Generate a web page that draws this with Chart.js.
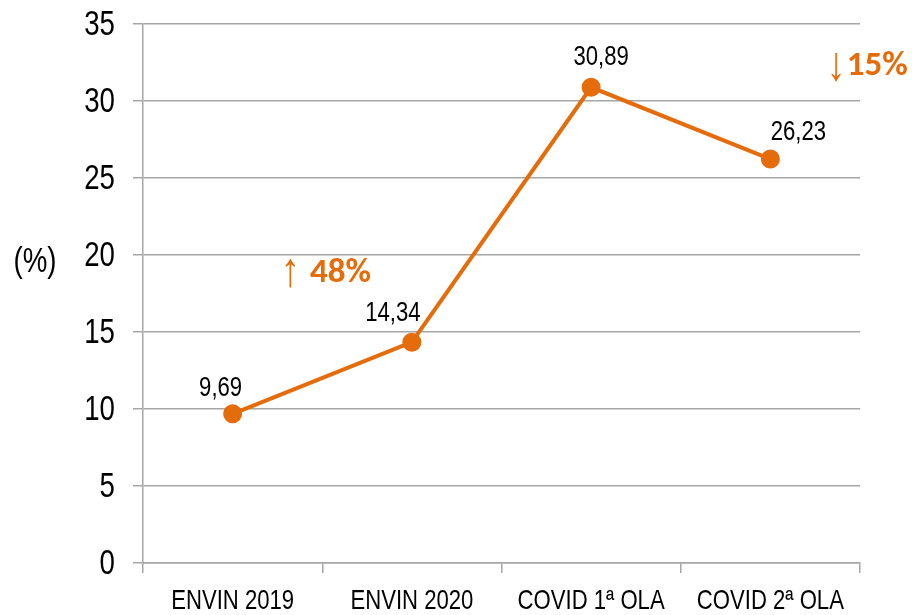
<!DOCTYPE html>
<html>
<head>
<meta charset="utf-8">
<script src="https://cdn.jsdelivr.net/npm/chart.js@4.4.1/dist/chart.umd.min.js"></script>
<style>
  html, body { margin: 0; padding: 0; background: #fff; }
  canvas { display: block; }
</style>
</head>
<body>
<canvas id="chart" width="912" height="615"></canvas>
<script>
// values
const categories = ['ENVIN 2019', 'ENVIN 2020', 'COVID 1ª OLA', 'COVID 2ª OLA'];
const values = [9.69, 14.34, 30.89, 26.23];
const yTicks = [0, 5, 10, 15, 20, 25, 30, 35];
const notes = [
    { text: '48%', arrow: '↑', x: 0.52, y: 18.9 },
    { text: '15%', arrow: '↓', x: 3.54, y: 32.3 }
];

// label nudges (px) - the labels were moved by hand in the original
const labelShift = [[-12, -25], [-19, -29], [10, -30], [28, -27]];

const orange = '#E46C0A';
const gridGray = '#A6A6A6';
const sans = "'Liberation Sans', Arial, sans-serif";
const boldFont = "bold 35px Carlito, Lato, 'Open Sans', sans-serif";
const squeeze = 0.79; // fake Arial Narrow by squashing Arial

// draw text squashed horizontally
function narrowText(c, txt, x, y, size, align) {
    c.save();
    c.font = size + 'px ' + sans;
    c.textAlign = align;
    c.translate(x, y);
    c.scale(squeeze, 1);
    c.fillText(txt, 0, 0);
    c.restore();
}

const extras = {
    id: 'extras',
    afterDatasetsDraw(chart) {
        const c = chart.ctx;
        const xs = chart.scales.x;
        const ys = chart.scales.y;
        const meta = chart.getDatasetMeta(0);
        c.save();
        c.textBaseline = 'middle';
        c.fillStyle = '#000';

        // y tick labels
        yTicks.forEach(v => {
            narrowText(c, String(v), xs.left - 28, ys.getPixelForValue(v) + 1, 35, 'right');
        });

        // category labels
        categories.forEach((lab, i) => {
            narrowText(c, lab, xs.getPixelForValue(i), ys.bottom + 38, 28, 'center');
        });

        // point labels
        meta.data.forEach((pt, i) => {
            const txt = values[i].toFixed(2).replace('.', ',');
            narrowText(c, txt, pt.x + labelShift[i][0], pt.y + labelShift[i][1], 28, 'center');
        });

        // axis title, written flat like the original
        narrowText(c, '(%)', 35, ys.getPixelForValue(19.5), 35, 'center');

        // percentage change notes
        c.fillStyle = orange;
        c.textAlign = 'left';
        notes.forEach(n => {
            const x = xs.getPixelForValue(n.x);
            const y = ys.getPixelForValue(n.y);
            c.font = boldFont;
            const w = c.measureText(n.text).width;
            c.font = '48px ' + sans;
            const aw = c.measureText(n.arrow).width * 0.8;
            const gap = n.arrow === '↑' ? 10 : 1;
            const x0 = x - (aw + gap + w) / 2;
            c.save();
            c.translate(x0, y + 1);
            c.scale(0.8, 1);
            c.fillText(n.arrow, 0, 0);
            c.restore();
            c.font = boldFont;
            c.fillText(n.text, x0 + aw + gap, y + 1);
        });
        c.restore();
    }
};

new Chart(document.getElementById('chart').getContext('2d'), {
    type: 'line',
    data: {
        labels: categories,
        datasets: [{
            data: values,
            borderColor: orange,
            backgroundColor: orange,
            borderWidth: 4,
            pointRadius: 7.5,
            pointHoverRadius: 7.5,
            pointBackgroundColor: orange,
            pointBorderColor: orange,
            tension: 0,
            fill: false
        }]
    },
    options: {
        responsive: false,
        animation: false,
        events: [],
        layout: { padding: { top: 24, right: 52, left: 0, bottom: 0 } },
        plugins: {
            legend: { display: false },
            tooltip: { enabled: false }
        },
        scales: {
            x: {
                offset: true,
                grid: {
                    offset: true,
                    drawOnChartArea: false,
                    tickLength: 10,
                    color: gridGray,
                    lineWidth: 1.5
                },
                border: { color: gridGray, width: 1.5 },
                ticks: { display: false, autoSkip: false },
                afterFit(scale) { scale.height = 52; }
            },
            y: {
                min: 0,
                max: 35,
                afterBuildTicks(scale) { scale.ticks = yTicks.map(v => ({ value: v })); },
                grid: {
                    color: gridGray,
                    lineWidth: 1.5,
                    tickLength: 10
                },
                border: { color: gridGray, width: 1.5 },
                ticks: { display: false },
                afterFit(scale) { scale.width = 143; }
            }
        }
    },
    plugins: [extras]
});
</script>
</body>
</html>
